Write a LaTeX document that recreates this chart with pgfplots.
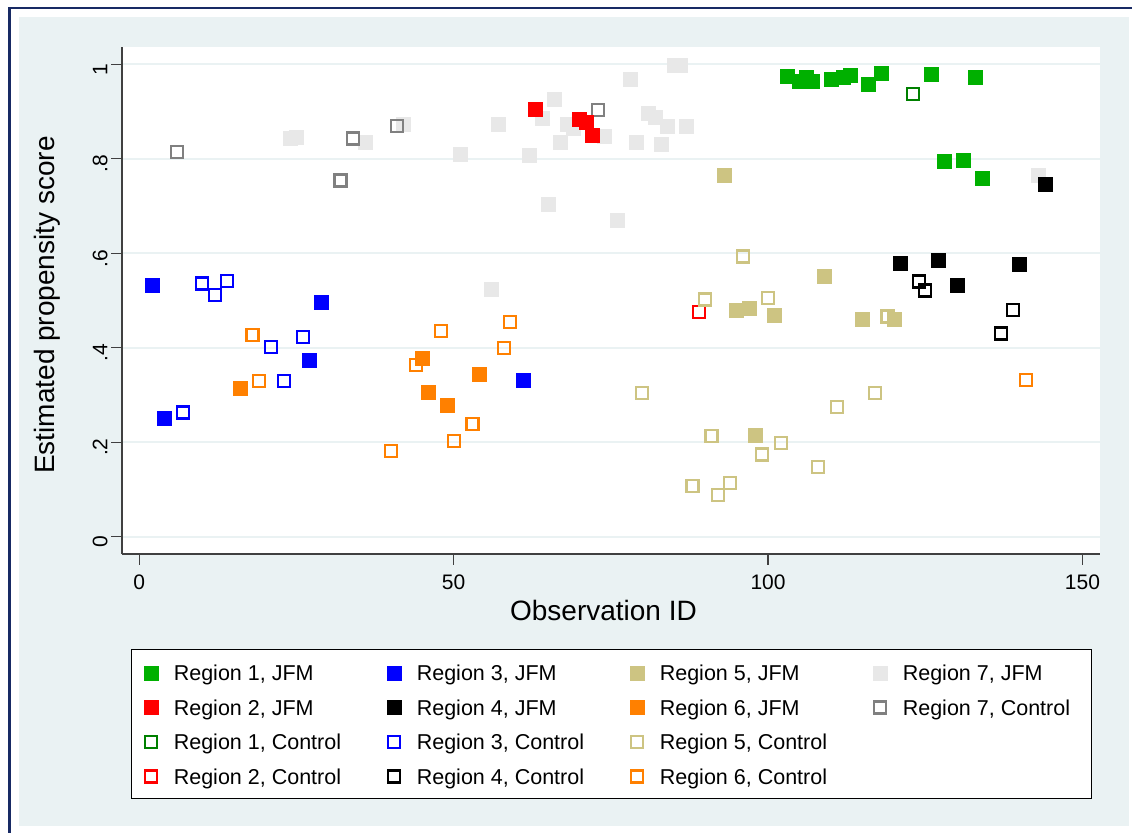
\documentclass[border=0pt]{standalone}
\usepackage{fontspec}
\setmainfont{Liberation Sans}
\usepackage{pgfplots}
\pgfplotsset{compat=1.18}

\definecolor{panel}{RGB}{234,242,243}
\definecolor{framenavy}{RGB}{24,42,100}
\definecolor{axisgray}{RGB}{64,64,64}
\definecolor{rOneJ}{RGB}{0,176,0}
\definecolor{rOneC}{RGB}{0,128,0}
\definecolor{rTwo}{RGB}{255,0,0}
\definecolor{rThree}{RGB}{0,0,255}
\definecolor{rFour}{RGB}{0,0,0}
\definecolor{rFive}{RGB}{205,196,130}
\definecolor{rSix}{RGB}{255,128,0}
\definecolor{rSevenJ}{RGB}{232,232,232}
\definecolor{rSevenC}{RGB}{128,128,128}

\pgfplotsset{
  jfm/.style={only marks, color=#1, mark=square*, mark size=7bp,
    mark options={draw=#1, fill=#1, line width=0.3bp}},
  ctl/.style={only marks, color=#1, mark=square, mark size=6bp,
    mark options={draw=#1, fill=none, line width=2.2bp}},
}
\newcommand{\entry}[1]{\makebox[175.4bp][l]{#1}}

\begin{document}
\begin{tikzpicture}[x=1bp,y=1bp]
% page, panel and frame
\fill[white] (0,0) rectangle (1132,833);
\fill[panel] (19,7) rectangle (1129,816);
\fill[framenavy] (8,0) rectangle (10.5,826);
\fill[framenavy] (8,823.5) rectangle (1132,826);

\begin{axis}[
  at={(122bp,279bp)}, anchor=south west,
  scale only axis, width=978bp, height=507bp,
  xmin=-2.75, xmax=152.8, ymin=-0.0366, ymax=1.0366,
  axis x line*=bottom, axis y line*=left,
  axis line style={axisgray, line width=1.5bp},
  axis background/.style={fill=white},
  xtick={0,50,100,150},
  ytick={0,0.2,0.4,0.6,0.8,1},
  yticklabels={0,.2,.4,.6,.8,1},
  tick align=outside, major tick length=11bp,
  tick style={axisgray, line width=1.2bp},
  /pgf/number format/assume math mode=true,
  ticklabel style={font=\fontsize{21bp}{25bp}\selectfont},
  yticklabel style={rotate=90, anchor=south, xshift=-5bp},
  xticklabel style={yshift=-6bp},
  ymajorgrids,
  major grid style={panel, line width=2bp},
  xlabel={Observation ID}, ylabel={Estimated propensity score},
  label style={font=\fontsize{28bp}{33bp}\selectfont},
  xlabel style={at={(axis description cs:0.4923,-0.112)}, anchor=center},
  ylabel style={at={(axis description cs:-0.0767,0.491)}, anchor=center},
  legend columns=4,
  legend image code/.code={\path[draw=none, fill=none] (-7bp,0bp) rectangle (7bp,15bp);
    \draw[#1] plot coordinates {(0bp,7.9bp)};},
  legend style={at={(axis description cs:0.00879,-0.1866)}, anchor=north west,
    draw=black, line width=1bp, fill=white,
    font=\fontsize{21.5bp}{25bp}\selectfont,
    inner xsep=12.8bp, inner ysep=6bp, row sep=0.8bp,
    cells={anchor=base west},
    nodes={inner sep=0bp, text height=25.7bp, text depth=8bp},
    /tikz/every odd column/.append style={column sep=15.9bp},
    /tikz/every even column/.append style={column sep=37.7bp}},
]

% Region 7, JFM
\addplot[jfm=rSevenJ, forget plot] coordinates {
 (24,0.843) (25,0.845) (36,0.836) (42,0.873) (51,0.809) (57,0.874) (56,0.524)
 (62,0.808) (64,0.885) (66,0.926) (68,0.874) (69,0.865) (67,0.836) (74,0.847)
 (78,0.969) (85,0.999) (86,0.999) (81,0.897) (82,0.888) (84,0.868) (87,0.868)
 (79,0.836) (83,0.831) (65,0.704) (76,0.669) (143,0.766)};

% Control groups
\addplot[ctl=rOneC, forget plot] coordinates {(123,0.937)};
\addplot[ctl=rTwo, forget plot] coordinates {(89,0.476)};
\addplot[ctl=rThree, forget plot] coordinates {
 (10,0.536) (12,0.512) (14,0.541) (21,0.401) (26,0.423) (23,0.330) (7,0.263)};
\addplot[ctl=rFour, forget plot] coordinates {
 (124,0.540) (125,0.521) (139,0.480) (137,0.430)};
\addplot[ctl=rFive, forget plot] coordinates {
 (96,0.593) (90,0.502) (100,0.505) (80,0.304) (91,0.213) (102,0.198) (99,0.174)
 (108,0.147) (88,0.107) (92,0.088) (94,0.113) (111,0.274) (117,0.304) (119,0.466)};
\addplot[ctl=rSix, forget plot] coordinates {
 (18,0.427) (19,0.330) (44,0.364) (48,0.435) (53,0.238) (50,0.202) (40,0.181)
 (59,0.455) (58,0.400) (141,0.332)};
\addplot[ctl=rSevenC, forget plot] coordinates {
 (6,0.815) (34,0.843) (41,0.869) (32,0.754) (73,0.903)};

% JFM groups
\addplot[jfm=rOneJ, forget plot] coordinates {
 (103,0.975) (105,0.965) (106,0.973) (107,0.965) (110,0.969) (112,0.973)
 (113,0.977) (116,0.958) (118,0.981) (126,0.979) (133,0.973) (128,0.795)
 (131,0.798) (134,0.760)};
\addplot[jfm=rTwo, forget plot] coordinates {
 (63,0.905) (70,0.884) (71,0.878) (72,0.850)};
\addplot[jfm=rThree, forget plot] coordinates {
 (2,0.533) (4,0.251) (29,0.496) (27,0.373) (61,0.331)};
\addplot[jfm=rFour, forget plot] coordinates {
 (121,0.578) (127,0.586) (140,0.576) (130,0.533) (144,0.746)};
\addplot[jfm=rFive, forget plot] coordinates {
 (93,0.766) (109,0.551) (95,0.480) (97,0.484) (101,0.470) (115,0.460)
 (120,0.460) (98,0.215)};
\addplot[jfm=rSix, forget plot] coordinates {
 (16,0.314) (45,0.379) (46,0.306) (49,0.279) (54,0.344)};

% legend, filled row by row
\addlegendimage{jfm=rOneJ}\addlegendentry{\entry{Region 1, JFM}}
\addlegendimage{jfm=rThree}\addlegendentry{\entry{Region 3, JFM}}
\addlegendimage{jfm=rFive}\addlegendentry{\entry{Region 5, JFM}}
\addlegendimage{jfm=rSevenJ}\addlegendentry{\entry{Region 7, JFM}}
\addlegendimage{jfm=rTwo}\addlegendentry{\entry{Region 2, JFM}}
\addlegendimage{jfm=rFour}\addlegendentry{\entry{Region 4, JFM}}
\addlegendimage{jfm=rSix}\addlegendentry{\entry{Region 6, JFM}}
\addlegendimage{ctl=rSevenC}\addlegendentry{\entry{Region 7, Control}}
\addlegendimage{ctl=rOneC}\addlegendentry{\entry{Region 1, Control}}
\addlegendimage{ctl=rThree}\addlegendentry{\entry{Region 3, Control}}
\addlegendimage{ctl=rFive}\addlegendentry{\entry{Region 5, Control}}
\addlegendimage{empty legend}\addlegendentry{}
\addlegendimage{ctl=rTwo}\addlegendentry{\entry{Region 2, Control}}
\addlegendimage{ctl=rFour}\addlegendentry{\entry{Region 4, Control}}
\addlegendimage{ctl=rSix}\addlegendentry{\entry{Region 6, Control}}
\end{axis}
\end{tikzpicture}
\end{document}
